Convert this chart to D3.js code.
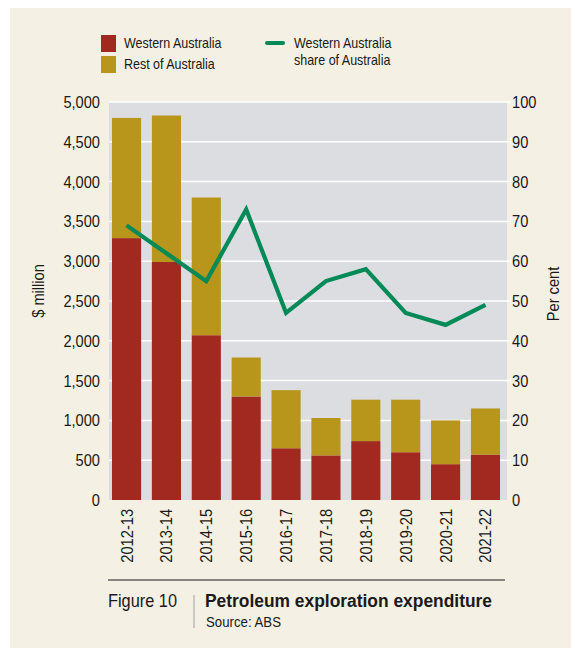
<!DOCTYPE html>
<html>
<head>
<meta charset="utf-8">
<script src="https://cdn.jsdelivr.net/npm/d3@7"></script>
<style>
  body { margin: 0; background: #ffffff; }
  text { font-family: "Liberation Sans Narrow", "Liberation Sans", Arial, sans-serif; fill: #1a1a1a; }
</style>
</head>
<body>
<svg id="chart" width="579" height="652"></svg>
<script>
// 数据
const years = ['2012-13', '2013-14', '2014-15', '2015-16', '2016-17', '2017-18', '2018-19', '2019-20', '2020-21', '2021-22'];
const waSpend = [3290, 2990, 2070, 1300, 650, 560, 740, 600, 450, 570];
const restSpend = [1510, 1840, 1730, 490, 730, 470, 520, 660, 550, 580];
const waShare = [69, 62, 55, 73, 47, 55, 58, 47, 44, 49];
const leftTicks = [0, 500, 1000, 1500, 2000, 2500, 3000, 3500, 4000, 4500, 5000];
const rightTicks = [0, 10, 20, 30, 40, 50, 60, 70, 80, 90, 100];

const colors = { wa: '#a1291f', rest: '#b8951b', line: '#008a57', plot: '#dcdde0', page: '#f4f0e3' };

const svg = d3.select('#chart');
const plot = { left: 109, right: 507, top: 102, bottom: 500 };

// 背景
svg.append('rect').attr('x', 10).attr('y', 8).attr('width', 561).attr('height', 640).attr('fill', colors.page);
svg.append('rect')
    .attr('x', plot.left).attr('y', plot.top)
    .attr('width', plot.right - plot.left).attr('height', plot.bottom - plot.top)
    .attr('fill', colors.plot);

const x = d3.scaleBand().domain(years).range([108, 504]).paddingInner(0.27).paddingOuter(0.1);
const y = d3.scaleLinear().domain([0, 5000]).range([plot.bottom, plot.top]);
const y2 = d3.scaleLinear().domain([0, 100]).range([plot.bottom, plot.top]);

// 网格线
svg.append('g').selectAll('line')
    .data(leftTicks.slice(1))
    .enter().append('line')
    .attr('x1', plot.left).attr('x2', plot.right + 4)
    .attr('y1', d => y(d)).attr('y2', d => y(d))
    .attr('stroke', '#ffffff').attr('stroke-width', 1.5);

// 堆叠柱图
const rows = years.map((yr, i) => ({ year: yr, wa: waSpend[i], rest: restSpend[i] }));
const stack = d3.stack().keys(['wa', 'rest'])(rows);
svg.append('g').selectAll('g')
    .data(stack)
    .enter().append('g')
    .attr('fill', d => colors[d.key])
    .selectAll('rect')
    .data(d => d)
    .enter().append('rect')
    .attr('x', d => x(d.data.year))
    .attr('width', x.bandwidth())
    .attr('y', d => y(d[1]))
    .attr('height', d => y(d[0]) - y(d[1]));

// 占比折线
const line = d3.line()
    .x((d, i) => x(years[i]) + x.bandwidth() / 2)
    .y(d => y2(d));
svg.append('path')
    .datum(waShare)
    .attr('d', line)
    .attr('fill', 'none')
    .attr('stroke', colors.line)
    .attr('stroke-width', 4.2)
    .attr('stroke-linejoin', 'miter');

// 左轴
svg.append('g').selectAll('text')
    .data(leftTicks)
    .enter().append('text')
    .attr('class', 'narrow')
    .text(d => d3.format(',')(d))
    .attr('x', 100).attr('y', d => y(d) + 6)
    .attr('text-anchor', 'end')
    .style('font-size', '17px');

// 右轴
svg.append('g').selectAll('text')
    .data(rightTicks)
    .enter().append('text')
    .attr('class', 'narrow')
    .text(d => d)
    .attr('x', 512).attr('y', d => y2(d) + 6)
    .style('font-size', '17px');

// 轴标题
svg.append('text').text('$ million').attr('class', 'narrow')
    .attr('transform', 'translate(44, 291) rotate(-90)')
    .attr('text-anchor', 'middle').style('font-size', '17px');
svg.append('text').text('Per cent').attr('class', 'narrow')
    .attr('transform', 'translate(559, 294) rotate(-90)')
    .attr('text-anchor', 'middle').style('font-size', '17px');

// x轴标签
svg.append('g').selectAll('text')
    .data(years)
    .enter().append('text')
    .attr('class', 'narrow')
    .text(d => d)
    .attr('transform', d => `translate(${x(d) + x.bandwidth() / 2 + 6}, 509) rotate(-90)`)
    .attr('text-anchor', 'end')
    .style('font-size', '17px');

// 图例
const legend = svg.append('g');
[['Western Australia', colors.wa, 35], ['Rest of Australia', colors.rest, 56]].forEach(([name, c, ly]) => {
    legend.append('rect').attr('x', 101).attr('y', ly).attr('width', 15).attr('height', 17).attr('fill', c);
    legend.append('text').attr('class', 'narrow').text(name).attr('x', 124).attr('y', ly + 13).style('font-size', '14.5px');
});
legend.append('line')
    .attr('x1', 267).attr('x2', 283).attr('y1', 43).attr('y2', 43)
    .attr('stroke', colors.line).attr('stroke-width', 4).attr('stroke-linecap', 'round');
legend.append('text').attr('class', 'narrow').text('Western Australia').attr('x', 294).attr('y', 48).style('font-size', '14.5px');
legend.append('text').attr('class', 'narrow').text('share of Australia').attr('x', 294).attr('y', 65).style('font-size', '14.5px');

// 底部标题
svg.append('line').attr('x1', 108).attr('x2', 505).attr('y1', 580).attr('y2', 580)
    .attr('stroke', '#1a1a1a').attr('stroke-width', 1);
svg.append('text').attr('class', 'narrow').text('Figure 10').attr('x', 108).attr('y', 607).style('font-size', '19px');
svg.append('line').attr('x1', 194).attr('x2', 194).attr('y1', 595).attr('y2', 628)
    .attr('stroke', '#a0a0a0').attr('stroke-width', 1);
svg.append('text').text('Petroleum exploration expenditure').attr('x', 205).attr('y', 607)
    .attr('textLength', 287).attr('lengthAdjust', 'spacingAndGlyphs')
    .style('font-size', '18px').style('font-weight', 'bold');
svg.append('text').text('Source: ABS').attr('x', 206).attr('y', 627)
    .attr('textLength', 75).attr('lengthAdjust', 'spacingAndGlyphs')
    .style('font-size', '14px');

// 模拟窄体字
svg.selectAll('text.narrow').each(function () {
    const len = this.getComputedTextLength();
    d3.select(this).attr('textLength', len * 0.86).attr('lengthAdjust', 'spacingAndGlyphs');
});
</script>
</body>
</html>
